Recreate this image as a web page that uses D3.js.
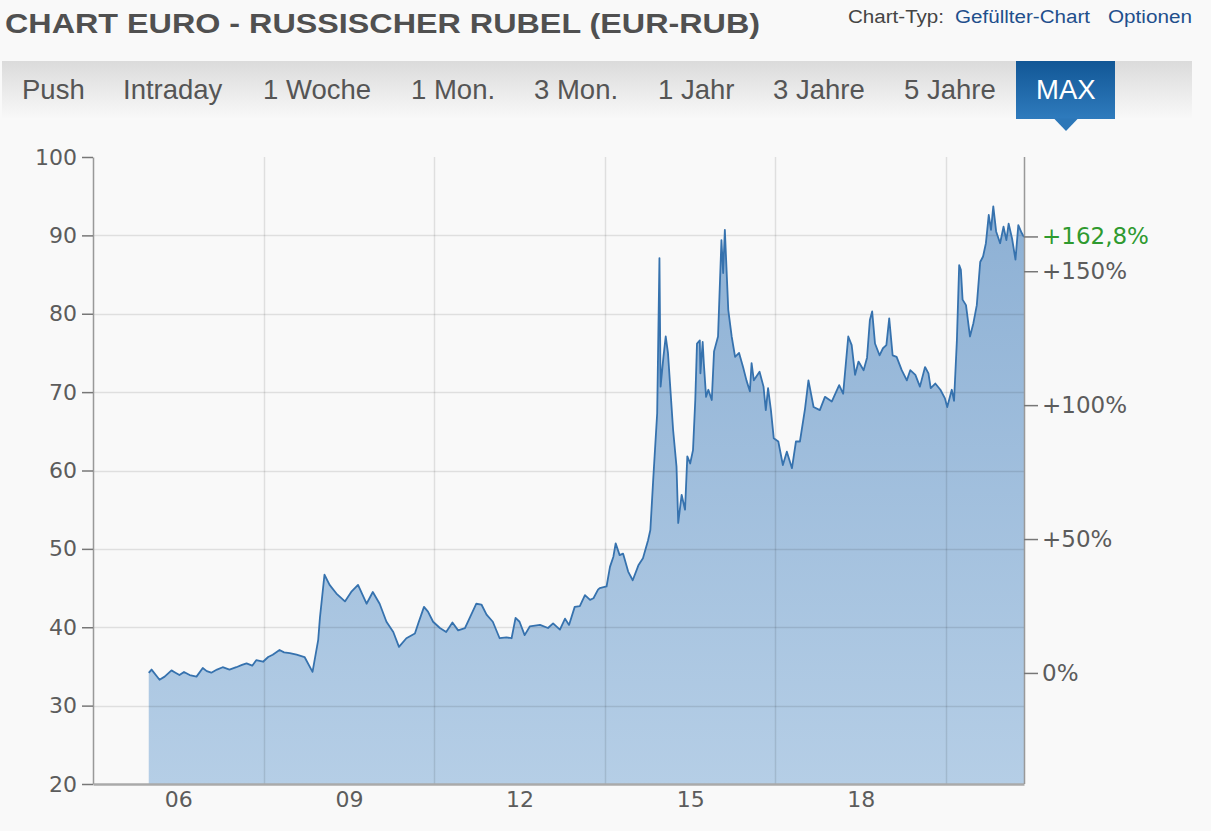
<!DOCTYPE html>
<html><head><meta charset="utf-8">
<script src="https://cdn.jsdelivr.net/npm/d3@7"></script>
<style>
html,body{margin:0;padding:0;background:#f9f9f9;}
svg{display:block;}
</style></head><body>
<svg id="c" width="1211" height="831"></svg>
<script>
// ---------- data ----------
const title = "CHART EURO - RUSSISCHER RUBEL (EUR-RUB)";
const headerLinks = ["Chart-Typ:", "Gefüllter-Chart", "Optionen"];
const tabs = ["Push","Intraday","1 Woche","1 Mon.","3 Mon.","1 Jahr","3 Jahre","5 Jahre","MAX"];
const activeTab = "MAX";

const years = [
 2005.98,2006.03,2006.17,2006.26,2006.38,2006.45,2006.52,2006.60,2006.70,2006.82,2006.93,2007.00,2007.08,2007.18,2007.28,
 2007.40,2007.52,2007.62,2007.70,2007.80,2007.87,2007.99,2008.08,2008.16,2008.28,2008.36,2008.46,2008.58,2008.72,2008.86,
 2008.96,2008.99,2009.07,2009.16,2009.28,2009.43,2009.54,2009.66,2009.81,2009.92,
 2010.04,2010.16,2010.28,2010.38,2010.51,2010.66,2010.72,2010.82,2010.89,2010.98,
 2011.10,2011.21,2011.32,2011.42,2011.54,2011.63,2011.74,2011.83,2011.92,2012.03,
 2012.15,2012.27,2012.36,2012.43,2012.50,2012.59,2012.68,2012.86,2013.00,2013.09,
 2013.21,2013.30,2013.37,2013.47,2013.56,2013.65,2013.74,2013.80,2013.88,2013.91,
 2014.03,2014.09,2014.15,2014.19,2014.26,2014.32,2014.41,2014.49,2014.59,2014.67,
 2014.76,2014.80,2014.85,2014.92,2014.96,2014.98,2015.03,2015.07,2015.11,2015.20,
 2015.26,2015.29,2015.35,2015.41,2015.45,2015.50,2015.55,2015.59,2015.62,2015.67,
 2015.68,2015.72,2015.74,2015.78,2015.82,2015.88,2015.92,2015.99,2016.05,2016.08,
 2016.11,2016.17,2016.23,2016.29,2016.36,2016.43,2016.49,2016.55,2016.58,2016.62,
 2016.72,2016.79,2016.83,2016.87,2016.92,2016.97,2017.05,2017.13,2017.20,2017.29,
 2017.36,2017.43,2017.52,2017.58,2017.67,2017.78,2017.87,2017.99,2018.12,2018.19,
 2018.28,2018.34,2018.40,2018.46,2018.55,2018.61,2018.66,2018.70,2018.75,2018.83,
 2018.89,2018.95,2019.00,2019.06,2019.13,2019.22,2019.31,2019.37,2019.46,2019.54,
 2019.63,2019.69,2019.73,2019.81,2019.90,2019.98,2020.02,2020.10,2020.14,2020.19,
 2020.23,2020.26,2020.29,2020.35,2020.42,2020.48,2020.54,2020.60,2020.65,2020.70,
 2020.75,2020.79,2020.83,2020.88,2020.95,2021.01,2021.06,2021.10,2021.16,2021.22,
 2021.27,2021.33,2021.37
];
const values = [
 34.17,34.6,33.3,33.7,34.5,34.2,33.9,34.3,33.9,33.7,34.8,34.4,34.2,34.6,34.9,
 34.6,34.9,35.2,35.4,35.1,35.8,35.6,36.2,36.5,37.1,36.8,36.7,36.5,36.2,34.3,
 38.4,41.2,46.7,45.4,44.3,43.3,44.5,45.4,43.0,44.5,
 43.0,40.7,39.4,37.5,38.6,39.2,40.5,42.6,42.0,40.7,
 39.9,39.4,40.6,39.6,39.9,41.3,43.0,42.9,41.6,40.7,
 38.6,38.7,38.6,41.2,40.7,39.0,40.1,40.3,39.9,40.5,
 39.7,41.1,40.3,42.6,42.7,44.1,43.5,43.7,44.8,45.0,
 45.2,47.7,49.0,50.7,49.2,49.4,47.1,46.0,47.9,48.8,
 51.1,52.4,58.8,67.3,87.1,70.7,74.5,77.1,75.0,65.2,
 60.5,53.3,56.9,55.0,61.8,60.9,62.6,69.0,76.2,76.6,
 72.4,76.4,73.7,69.4,70.3,69.0,75.2,77.1,89.4,85.2,
 90.7,80.5,77.1,74.5,75.0,73.2,71.5,70.1,73.7,71.5,
 72.6,70.7,67.7,70.5,67.7,64.1,63.7,60.7,62.4,60.3,
 63.7,63.7,67.9,71.5,68.1,67.7,69.4,68.8,70.9,69.8,
 77.1,76.0,72.2,73.9,72.8,74.4,79.2,80.3,76.2,74.7,
 75.6,76.0,79.4,74.7,74.5,72.8,71.5,72.8,72.2,70.7,
 73.2,72.4,70.5,71.1,70.3,69.2,68.1,70.3,68.9,76.6,
 86.2,85.6,81.8,81.1,77.1,78.8,81.1,86.6,87.3,89.0,
 92.6,90.7,93.7,90.5,89.0,91.1,89.4,91.5,89.6,86.9,
 91.3,90.3,89.8
];
const yTicks = [20,30,40,50,60,70,80,90,100];
const gridYears = [2008,2011,2014,2017,2020];
const xTickLabels = ["06","09","12","15","18"];
const pctTicks = [0,50,100,150];

// ---------- layout ----------
const svg = d3.select("#c");
const W = 1211, H = 831;
const L = 93, R = 1024, T = 157, B = 784;
const fontAxis = "'DejaVu Sans', Verdana, sans-serif";
const fontHead = "'Liberation Sans', Arial, sans-serif";

svg.append("rect").attr("width", W).attr("height", H).attr("fill", "#f9f9f9");

const defs = svg.append("defs");
const gBar = defs.append("linearGradient").attr("id","barG").attr("x1",0).attr("x2",0).attr("y1",0).attr("y2",1);
gBar.append("stop").attr("offset","0%").attr("stop-color","#dbdbdb");
gBar.append("stop").attr("offset","100%").attr("stop-color","#f8f8f8");
const gTab = defs.append("linearGradient").attr("id","tabG").attr("x1",0).attr("x2",0).attr("y1",0).attr("y2",1);
gTab.append("stop").attr("offset","0%").attr("stop-color","#125796");
gTab.append("stop").attr("offset","100%").attr("stop-color","#2f7bbd");
const gArea = defs.append("linearGradient").attr("id","areaG").attr("gradientUnits","userSpaceOnUse")
  .attr("x1",0).attr("x2",0).attr("y1",T).attr("y2",B);
gArea.append("stop").attr("offset","0%").attr("stop-color","#8aaed3");
gArea.append("stop").attr("offset","100%").attr("stop-color","#b5cee6");

// ---------- header ----------
svg.append("text").attr("x",5).attr("y",33).text(title)
  .attr("font-family",fontHead).attr("font-weight","bold").attr("font-size",28)
  .attr("fill","#505050").attr("textLength",755).attr("lengthAdjust","spacingAndGlyphs");

const headX = [848, 955, 1108], headW = [96, 135, 84], headC = ["#444","#1f4f8c","#1f4f8c"];
headerLinks.forEach((t,i)=>{
  svg.append("text").attr("x",headX[i]).attr("y",23).text(t)
    .attr("font-family",fontHead).attr("font-size",18).attr("fill",headC[i])
    .attr("textLength",headW[i]).attr("lengthAdjust","spacingAndGlyphs");
});

// tab bar
svg.append("rect").attr("x",2).attr("y",61).attr("width",1190).attr("height",57).attr("fill","url(#barG)");
const tabX = [22,123,263,411,534,658,773,904,1036];
svg.append("rect").attr("x",1016).attr("y",61).attr("width",99).attr("height",58).attr("fill","url(#tabG)");
svg.append("path").attr("d","M1054,118.5L1078,118.5L1066,131Z").attr("fill","#2c77b8");
tabs.forEach((t,i)=>{
  svg.append("text").attr("x",tabX[i]).attr("y",99).text(t)
    .attr("font-family",fontHead).attr("font-size",27.5)
    .attr("fill", t===activeTab ? "#fff" : "#555");
});

// ---------- scales ----------
const x = d3.scaleLinear().domain([2005, years[years.length-1]]).range([L, R]);
const y = d3.scaleLinear().domain([20, 100]).range([B, T]);
const base = values[0];
const last = values[values.length-1];

// area + line
const data = years.map((yr,i)=>({yr, v: values[i]}));
svg.append("path").datum(data)
  .attr("d", d3.area().x(d=>x(d.yr)).y0(y(20)).y1(d=>y(d.v)))
  .attr("fill","url(#areaG)");

// grid (drawn on top, translucent)
const grid = svg.append("g").attr("stroke","rgba(0,0,0,0.1)").attr("stroke-width",1.5);
yTicks.filter(v=>v>20 && v<100).forEach(v=>{
  grid.append("line").attr("x1",L).attr("x2",R).attr("y1",Math.round(y(v))+0.5).attr("y2",Math.round(y(v))+0.5);
});
gridYears.forEach(g=>{
  grid.append("line").attr("x1",Math.round(x(g))+0.5).attr("x2",Math.round(x(g))+0.5).attr("y1",T).attr("y2",B);
});

svg.append("path").datum(data)
  .attr("d", d3.line().x(d=>x(d.yr)).y(d=>y(d.v)))
  .attr("fill","none").attr("stroke","#3672ae").attr("stroke-width",1.8).attr("stroke-linejoin","round");

// ---------- axes ----------
function styleAxis(g, fs){
  g.selectAll("text").attr("font-family",fontAxis).attr("font-size",fs).attr("fill","#5c5c5c");
  g.selectAll("line").attr("stroke","#777").attr("stroke-width",1.5);
  g.select(".domain").attr("stroke","#999").attr("stroke-width",1.5);
}
const axL = svg.append("g").attr("transform",`translate(${L},0)`)
  .call(d3.axisLeft(y).tickValues(yTicks).tickSize(11).tickSizeOuter(0).tickPadding(5).tickFormat(d3.format("d")));
styleAxis(axL, 22);

const axB = svg.append("g").attr("transform",`translate(0,${B})`)
  .call(d3.axisBottom(x).tickValues(gridYears.map(g=>g-1.5)).tickSize(0).tickSizeOuter(0).tickPadding(7)
    .tickFormat((d,i)=>xTickLabels[i]));
styleAxis(axB, 22);
axB.select(".domain").attr("stroke","#aaa").attr("stroke-width",2.5);

const pctVals = pctTicks.map(p=>base*(1+p/100));
const fmtPct = p => (p===0 ? "0%" : "+" + String(p).replace(".", ",") + "%");
const axR = svg.append("g").attr("transform",`translate(${R},0)`)
  .call(d3.axisRight(y).tickValues(pctVals).tickSize(14).tickSizeOuter(0).tickPadding(4)
    .tickFormat((d,i)=>fmtPct(pctTicks[i])));
styleAxis(axR, 23);
axR.select(".domain").attr("d",`M0.5,${T}V${B}`);

// last value marker
const lastPct = (last/base - 1)*100;
const gl = svg.append("g").attr("transform",`translate(${R},${y(last)})`);
gl.append("line").attr("x1",0).attr("x2",14).attr("stroke","#777").attr("stroke-width",1.5);
gl.append("text").attr("x",18).attr("dy","0.32em").text("+" + lastPct.toFixed(1).replace(".", ",") + "%")
  .attr("font-family",fontAxis).attr("font-size",23).attr("fill","#2f9a2f");
</script>
</body></html>
